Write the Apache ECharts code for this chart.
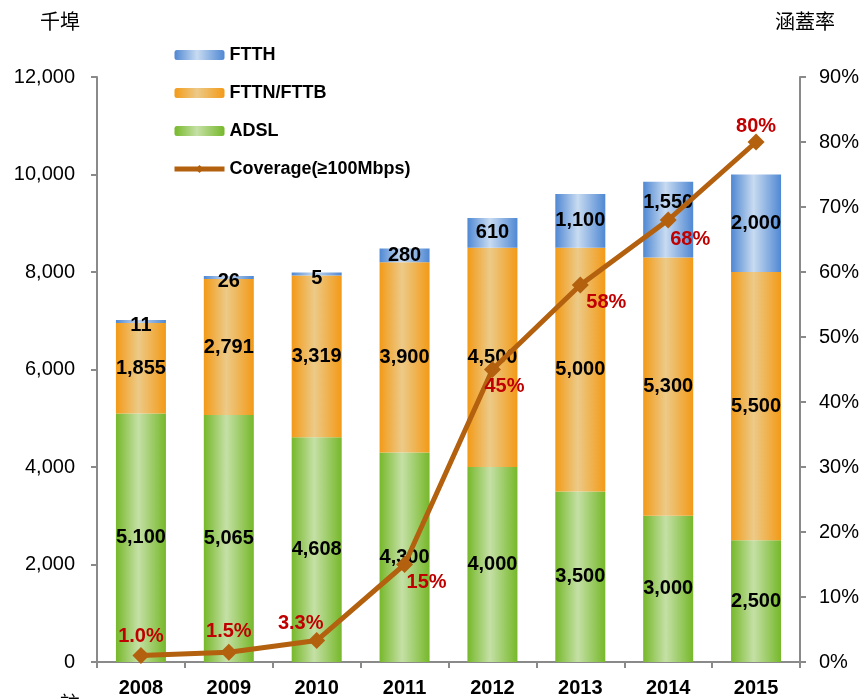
<!DOCTYPE html>
<html><head><meta charset="utf-8">
<script src="https://cdn.jsdelivr.net/npm/echarts@6/dist/echarts.min.js"></script>
<style>html,body{margin:0;padding:0;background:#fff}#c{width:864px;height:699px}</style>
</head><body><div id="c"></div>
<script>
const years = ['2008','2009','2010','2011','2012','2013','2014','2015'];
const adsl = [5100,5065,4608,4300,4000,3500,3000,2500];
const fttn = [1855,2791,3319,3900,4500,5000,5300,5500];
const ftth = [11,26,5,280,610,1100,1550,2000];
const coverage = [1.0,1.5,3.3,15,45,58,68,80];
const coverageText = ['1.0%','1.5%','3.3%','15%','45%','58%','68%','80%'];
const leftTicks = {min:0,max:12000,interval:2000};
const rightTicks = {min:0,max:90,interval:10};

function grad(dark, light){
  return {type:'linear',x:0,y:0,x2:1,y2:0,colorStops:[
    {offset:0,color:dark},{offset:0.45,color:light},{offset:1,color:dark}]};
}
const font = 'Liberation Sans, Arial, sans-serif';
const barLabel = {show:true,position:'inside',color:'#000',fontWeight:'bold',fontSize:20,fontFamily:font,
  formatter:p=>p.value.toLocaleString('en-US')};

const lblPos = [
  {position:'top',offset:[0,4]},{position:'top',offset:[0,3]},{position:'top',offset:[-16,6]},
  {position:'bottom',offset:[22,-6]},{position:'bottom',offset:[12,-7]},
  {position:'bottom',offset:[26,-6]},{position:'bottom',offset:[22,-4]},{position:'top',offset:[0,8]}
];
const ftthOffsets = [[0,4],[0,4],[0,4],[0,0],[0,0],[0,0],[0,-17],[0,0]];
const lineColor = '#b3600f';

const chart = echarts.init(document.getElementById('c'),null,{renderer:'canvas'});
chart.setOption({
  animation:false,
  backgroundColor:'#fff',
  grid:{left:97,right:64,top:77,bottom:37,containLabel:false},
  legend:{
    orient:'vertical',left:167,top:41,itemGap:20,itemWidth:50,itemHeight:10,
    textStyle:{fontWeight:'bold',fontSize:18,fontFamily:font,color:'#000',lineHeight:18},
    data:['FTTH','FTTN/FTTB','ADSL',
      {name:'Coverage(≥100Mbps)',lineStyle:{width:5,color:lineColor},itemStyle:{color:lineColor}}]
  },
  graphic:[
    {type:'text',left:40,top:11,style:{text:'千埠',font:'20px "Noto Sans CJK TC"',fill:'#000'}},
    {type:'text',left:775,top:11,style:{text:'涵蓋率',font:'20px "Noto Sans CJK TC"',fill:'#000'}},
    {type:'text',left:60,top:693,style:{text:'註',font:'20px "Noto Sans CJK TC"',fill:'#000'}}
  ],
  xAxis:{type:'category',data:years,
    axisLine:{lineStyle:{color:'#8a8a8a',width:2}},
    axisTick:{show:true,length:6,lineStyle:{color:'#8a8a8a',width:2}},
    axisLabel:{color:'#000',fontWeight:'bold',fontSize:20,fontFamily:font,margin:16}},
  yAxis:[
    {type:'value',min:leftTicks.min,max:leftTicks.max,interval:leftTicks.interval,
     axisLine:{show:true,lineStyle:{color:'#8a8a8a',width:2}},
     axisTick:{show:true,length:6,lineStyle:{color:'#8a8a8a',width:2}},
     splitLine:{show:false},
     axisLabel:{color:'#000',fontSize:20,fontFamily:font,margin:22,formatter:v=>v.toLocaleString('en-US')}},
    {type:'value',min:rightTicks.min,max:rightTicks.max,interval:rightTicks.interval,position:'right',
     axisLine:{show:true,lineStyle:{color:'#8a8a8a',width:2}},
     axisTick:{show:true,length:6,lineStyle:{color:'#8a8a8a',width:2}},
     splitLine:{show:false},
     axisLabel:{color:'#000',fontSize:20,fontFamily:font,margin:19,formatter:v=>v+'%'}}
  ],
  series:[
    {name:'ADSL',type:'bar',stack:'s',data:adsl,barWidth:50,
     itemStyle:{color:grad('#76b82a','#c5e0a6')},label:barLabel},
    {name:'FTTN/FTTB',type:'bar',stack:'s',data:fttn,barWidth:50,
     itemStyle:{color:grad('#f39a17','#ecca88')},label:barLabel},
    {name:'FTTH',type:'bar',stack:'s',barWidth:50,barMinHeight:3,
     data:ftth.map((v,i)=>({value:v,label:{offset:ftthOffsets[i]}})),
     itemStyle:{color:grad('#4f88d3','#c8dbf1')},label:barLabel},
    {name:'Coverage(≥100Mbps)',type:'line',yAxisIndex:1,
     data:coverage.map((v,i)=>({value:v,label:Object.assign({formatter:coverageText[i]},lblPos[i])})),
     symbol:'diamond',symbolSize:17,
     lineStyle:{color:lineColor,width:5},itemStyle:{color:lineColor},
     label:{show:true,color:'#c00000',fontWeight:'bold',fontSize:20,fontFamily:font},
     z:10}
  ]
});
</script></body></html>
